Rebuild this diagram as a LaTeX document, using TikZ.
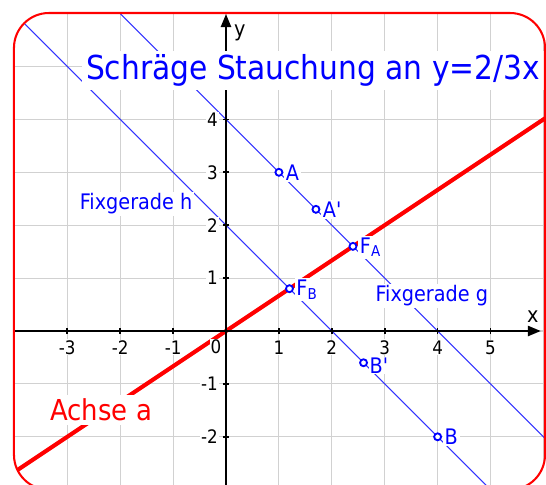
\documentclass[tikz,border=0pt]{standalone}
\usepackage{fontspec}
\setmainfont{DejaVu Sans}[FakeStretch=0.9]
\usetikzlibrary{arrows.meta}
\begin{document}
\begin{tikzpicture}[x=1cm,y=1cm,
  gridline/.style={black!18, line width=0.55pt},
  fixline/.style={blue!80!white, line width=0.55pt},
  axisline/.style={black, line width=1.1pt},
  ticklabel/.style={font=\fontsize{10}{12}\selectfont, fill=white, inner sep=0.5pt},
  ptlabel/.style={font=\fontsize{11.5}{13}\selectfont, text=blue, fill=white, inner sep=1pt, anchor=west, xshift=0.09cm},
  pt/.style={draw=blue, fill=white, line width=1pt}]
\def\xl{-4.008}
\def\xr{6.03}
\def\yb{-3.0}
\def\yt{6.011}
\def\rc{0.66}

\useasboundingbox (-4.272,-2.892) rectangle (6.049,6.257);

%% Points (A on g, B on h, images with factor 1/2 towards the axis)
\coordinate (A) at (1,3);
\coordinate (Ap) at (1.7,2.3);
\coordinate (FA) at (2.4,1.6);
\coordinate (B) at (4,-2);
\coordinate (Bp) at (2.6,-0.6);
\coordinate (FB) at (1.2,0.8);

%% Line ends (clipped by the frame)
\coordinate (g1) at (-2.6,6.6);
\coordinate (g2) at (7.0,-3.0);
\coordinate (h1) at (-4.6,6.6);
\coordinate (h2) at (5.0,-3.0);
\coordinate (a1) at (-4.5,-3.0);
\coordinate (a2) at (6.6,4.4);

\begin{scope}
\clip[rounded corners=\rc cm] (\xl,\yb) rectangle (\xr,\yt);
%% Grid
\foreach \i in {-4,...,6} \draw[gridline] (\i,\yb) -- (\i,\yt);
\foreach \j in {-3,...,6} \draw[gridline] (\xl,\j) -- (\xr,\j);
%% Fixed lines g and h
\draw[fixline] (g1) -- (g2);
\draw[fixline] (h1) -- (h2);
%% Axis a
\draw[red, line width=2.2pt] (a1) -- (a2);
\end{scope}

%% Axes
\coordinate (xs) at (\xl,0);
\coordinate (xe) at (5.95,0);
\coordinate (ys) at (0,\yb);
\coordinate (ye) at (0,5.99);
\draw[axisline, -{Triangle[length=7pt,width=5.5pt]}] (xs) -- (xe);
\draw[axisline, -{Triangle[length=7pt,width=5.5pt]}] (ys) -- (ye);
\foreach \i in {-3,-2,-1,1,2,3,4,5} {
  \draw[black, line width=0.9pt] (\i,-0.06) -- (\i,0.06);
  \node[ticklabel] (tx\i) at (\i,-0.31) {\i};
}
\foreach \j in {-2,-1,1,2,3,4} {
  \draw[black, line width=0.9pt] (-0.06,\j) -- (0.06,\j);
  \node[ticklabel, anchor=east] (ty\j) at (-0.13,\j) {\j};
}
\node[ticklabel] (t0) at (-0.19,-0.30) {0};
\node[ticklabel, font=\fontsize{11.5}{13}\selectfont] (xlab) at (5.8,0.28) {x};
\node[ticklabel, font=\fontsize{11.5}{13}\selectfont] (ylab) at (0.26,5.63) {y};

%% Labels
\node[font=\fontsize{17.75}{20}\selectfont, text=blue, fill=white, inner sep=2pt] (title) at (1.645,4.93) {Schräge Stauchung an y=2/3x};
\node[ptlabel, anchor=center, xshift=0cm] (lh) at (-1.79,2.40) {Fixgerade h};
\node[ptlabel, anchor=center, xshift=0cm] (lg) at (3.80,0.66) {Fixgerade g};
\node[font=\fontsize{15.5}{18}\selectfont, text=red, fill=white, inner sep=2pt] (la) at (-2.36,-1.49) {Achse a};

\node[ptlabel] (lA) at (A) {A};
\node[ptlabel] (lAp) at (Ap) {A\textquotesingle};
\node[ptlabel, yshift=-0.02cm] (lFA) at (FA) {F\textsubscript{A}};
\node[ptlabel, yshift=-0.02cm] (lFB) at (FB) {F\textsubscript{B}};
\node[ptlabel, yshift=-0.05cm, inner sep=0.5pt] (lBp) at (Bp) {B\textquotesingle};
\node[ptlabel] (lB) at (B) {B};

\foreach \p in {A,Ap,FA,B,Bp,FB} \draw[pt] (\p) circle (0.066);

%% Frame
\draw[red, line width=1.1pt, rounded corners=\rc cm] (\xl,\yb) rectangle (\xr,\yt);
\end{tikzpicture}
\end{document}
